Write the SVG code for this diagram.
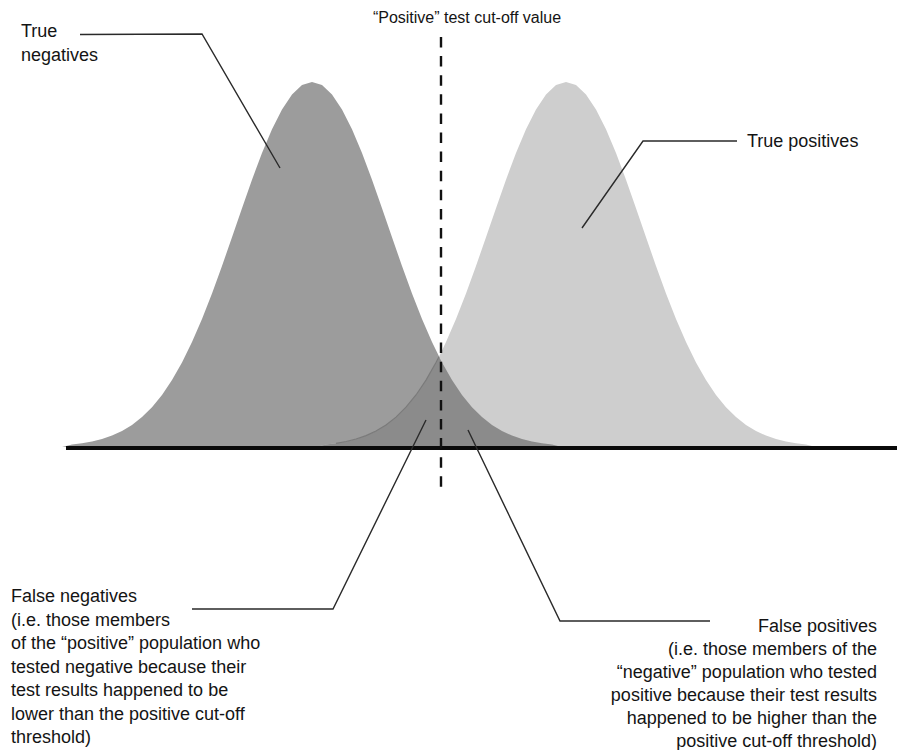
<svg xmlns="http://www.w3.org/2000/svg" width="899" height="750" viewBox="0 0 899 750">
<style>
.lbl{font-family:"Liberation Sans",Arial,sans-serif;font-size:18px;fill:#141414}
.ttl{font-family:"Liberation Sans",Arial,sans-serif;font-size:16px;fill:#141414}
.lead{fill:none;stroke:#2a2a2a;stroke-width:1.4;stroke-linejoin:miter}
</style>
<rect width="899" height="750" fill="#ffffff"/>
<g id="negative-curve">
<path fill="#9c9c9c" d="M62 447 L72 444.5 L82 443.3 L92 441.5 L102 439 L112 435.6 L122 431 L132 424.9 L142 417.1 L152 407.2 L162 395 L172 380.1 L182 362.5 L192 342.1 L202 318.9 L212 293.4 L222 266 L232 237.2 L242 208.2 L252 179.7 L262 153 L272 129.2 L282 109.4 L292 94.4 L302 85.1 L312 82 L322 85.1 L332 94.4 L342 109.4 L352 129.2 L362 153 L372 179.7 L382 208.2 L392 237.2 L402 266 L412 293.4 L422 318.9 L432 342.1 L442 362.5 L452 380.1 L462 395 L472 407.2 L482 417.1 L492 424.9 L502 431 L512 435.6 L522 439 L532 441.5 L542 443.3 L552 444.5 L562 447 Z"/>
</g>
<g id="positive-curve">
<path fill="#cecece" d="M316 447 L326 444.5 L336 443.3 L346 441.5 L356 439 L366 435.6 L376 431 L386 424.9 L396 417.1 L406 407.2 L416 395 L426 380.1 L436 362.5 L439 356.7 L446 342.1 L456 318.9 L466 293.4 L476 266 L486 237.2 L496 208.2 L506 179.7 L516 153 L526 129.2 L536 109.4 L546 94.4 L556 85.1 L566 82 L576 85.1 L586 94.4 L596 109.4 L606 129.2 L616 153 L626 179.7 L636 208.2 L646 237.2 L656 266 L666 293.4 L676 318.9 L686 342.1 L696 362.5 L706 380.1 L716 395 L726 407.2 L736 417.1 L746 424.9 L756 431 L766 435.6 L776 439 L786 441.5 L796 443.3 L806 444.5 L816 447 Z"/>
</g>
<g id="overlap">
<path fill="#8b8b8b" d="M316 447 L326 444.5 L336 443.3 L346 441.5 L356 439 L366 435.6 L376 431 L386 424.9 L396 417.1 L406 407.2 L416 395 L426 380.1 L436 362.5 L439 356.7 L442 362.5 L452 380.1 L462 395 L472 407.2 L482 417.1 L492 424.9 L502 431 L512 435.6 L522 439 L532 441.5 L542 443.3 L552 444.5 L562 447 Z"/>
<path fill="none" stroke="#7a7a7a" stroke-width="1.2" d="M336 443.3 L346 441.5 L356 439 L366 435.6 L376 431 L386 424.9 L396 417.1 L406 407.2 L416 395 L426 380.1 L436 362.5 L439 356.7"/>
</g>
<g id="axis">
<line x1="66" y1="448" x2="897" y2="448" stroke="#0a0a0a" stroke-width="4"/>
</g>
<g id="cutoff">
<line x1="441" y1="37" x2="441" y2="488" stroke="#111" stroke-width="2.4" stroke-dasharray="10.5 8.6"/>
<text class="ttl" x="467" y="23" text-anchor="middle">“Positive” test cut-off value</text>
</g>
<g id="connectors">
<polyline class="lead" points="80,34.5 202,34 280,168"/>
<polyline class="lead" points="737,141 643,141 582,228"/>
<polyline class="lead" points="192,609 333,609 426,420"/>
<polyline class="lead" points="710,621 560,621 468,430"/>
</g>
<g id="label-true-negatives">
<text class="lbl" x="21" y="37">True</text>
<text class="lbl" x="21" y="61">negatives</text>
</g>
<g id="label-true-positives">
<text class="lbl" x="747" y="147">True positives</text>
</g>
<g id="label-false-negatives">
<text class="lbl" x="11" y="602">False negatives</text>
<text class="lbl" x="11" y="625.5">(i.e. those members</text>
<text class="lbl" x="11" y="649">of the “positive” population who</text>
<text class="lbl" x="11" y="672.5">tested negative because their</text>
<text class="lbl" x="11" y="696">test results happened to be</text>
<text class="lbl" x="11" y="719.5">lower than the positive cut-off</text>
<text class="lbl" x="11" y="743">threshold)</text>
</g>
<g id="label-false-positives">
<text class="lbl" x="877" y="632" text-anchor="end">False positives</text>
<text class="lbl" x="877" y="655" text-anchor="end">(i.e. those members of the</text>
<text class="lbl" x="877" y="678" text-anchor="end">“negative” population who tested</text>
<text class="lbl" x="877" y="701" text-anchor="end">positive because their test results</text>
<text class="lbl" x="877" y="724" text-anchor="end">happened to be higher than the</text>
<text class="lbl" x="877" y="747" text-anchor="end">positive cut-off threshold)</text>
</g>
</svg>
